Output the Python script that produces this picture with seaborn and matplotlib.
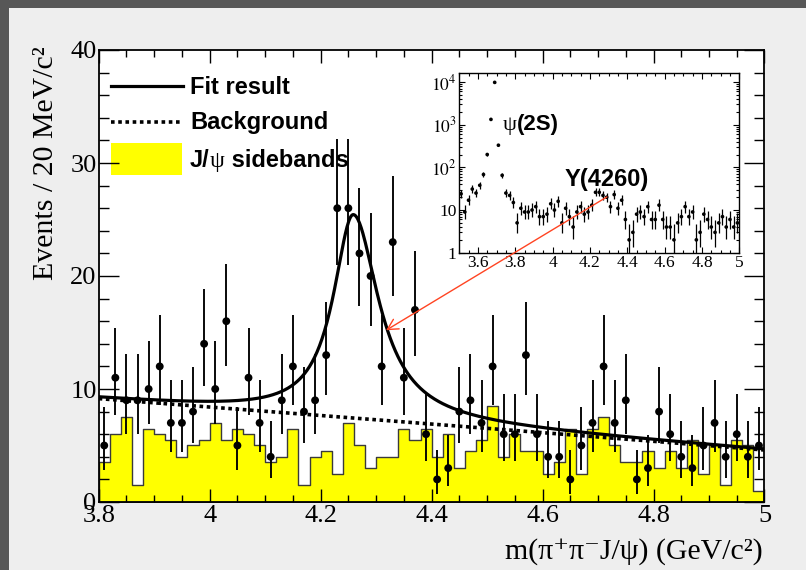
import numpy as np
import pandas as pd
import matplotlib
matplotlib.use("Agg")
import matplotlib.pyplot as plt
import seaborn as sns
from matplotlib.patches import Rectangle
from matplotlib.lines import Line2D
from matplotlib.ticker import MultipleLocator, FuncFormatter, LogLocator, NullFormatter

# ---------------------------------------------------------------- data
# 20 MeV/c^2 bins of m(pi+ pi- J/psi), 3.80 - 5.00 GeV/c^2
mass_low, mass_high, bin_width = 3.80, 5.00, 0.02

events = [5, 11, 9, 9, 10, 12, 7, 7, 8, 14,
          10, 16, 5, 11, 7, 4, 9, 12, 8, 9,
          13, 26, 26, 22, 20, 12, 23, 11, 17, 6,
          2, 3, 8, 9, 7, 12, 6, 6, 13, 6,
          4, 4, 2, 5, 7, 12, 7, 9, 2, 3,
          8, 6, 4, 3, 5, 7, 4, 6, 4, 5]

sidebands = [3.5, 6, 7.5, 1.5, 6.5, 6, 5.5, 4, 5, 5.5,
             7, 5.5, 6.5, 6, 5, 3.5, 4, 6.5, 1.5, 4,
             4.5, 2.5, 7, 5, 3, 4, 4, 6.5, 5.5, 6.5,
             4, 6, 3, 4.5, 5.5, 8.5, 4, 6, 4.5, 4.5,
             2.5, 3.5, 6.5, 2.5, 6.5, 7.5, 5, 3.5, 3.5, 4.5,
             3, 4.5, 3, 5.5, 2.5, 5, 1.5, 5.5, 5, 1]

# wide-range spectrum: bins below 3.80 (psi(2S) region), same binning
inset_low = 3.50
psi2s_region_events = [24, 9, 17, 31, 25, 38, 68, 200, 1330, 9800,
                       330, 65, 25, 22, 15]

# fit result: BW signal on a smooth background
bkg_mass = [3.8, 4.4, 5.0]
bkg_level = [9.15, 6.9, 4.6]
peak_mass = 4.259
peak_height = 18.0
width_below = 0.088
width_above = 0.110

x_ticks_main = [3.8, 4.0, 4.2, 4.4, 4.6, 4.8, 5.0]
y_ticks_main = [0, 10, 20, 30, 40]
x_ticks_inset = [3.6, 3.8, 4.0, 4.2, 4.4, 4.6, 4.8, 5.0]

# ---------------------------------------------------------------- helpers
def poisson_errors(n):
    """68% central Poisson interval (Wilson-Hilferty form)."""
    n = np.asarray(n, float)
    lo = n * (1 - 1 / (9 * n) - 1 / (3 * np.sqrt(n))) ** 3
    hi = (n + 1) * (1 - 1 / (9 * (n + 1)) + 1 / (3 * np.sqrt(n + 1))) ** 3
    return n - lo, hi - n


def background(m):
    c = np.polyfit(bkg_mass, bkg_level, 2)
    return np.polyval(c, m)


def signal(m):
    w = np.where(m < peak_mass, width_below, width_above)
    return peak_height / (1 + (2 * (m - peak_mass) / w) ** 2)


edges = [round(mass_low + i * bin_width, 3) for i in range(len(events) + 1)]
centers = np.array(edges[:-1]) + bin_width / 2
hist_df = pd.DataFrame({"mass": centers, "sideband": sidebands})

# ---------------------------------------------------------------- style
plt.rcParams["font.family"] = ["Liberation Serif", "DejaVu Serif"]
plt.rcParams["mathtext.fontset"] = "stix"
SANS_BOLD = dict(family=["Liberation Sans", "DejaVu Sans"], weight="bold")
SERIF = dict(family=["Liberation Serif", "DejaVu Serif"])

W, H = 806, 570
fig = plt.figure(figsize=(W / 100, H / 100), dpi=100)
fig.patch.set_facecolor("#575757")
fig.add_artist(Rectangle((9 / W, 0), 1, 1 - 8 / H, transform=fig.transFigure,
                         facecolor="#eeeeee", edgecolor="none", zorder=-1))

ax = fig.add_axes([98.7 / W, 1 - 502 / H, 665.8 / W, 452 / H])
ax.set_facecolor("white")

# sideband histogram
sns.histplot(data=hist_df, x="mass", weights="sideband", bins=edges,
             element="step", fill=True, color="#ffff00", alpha=1,
             edgecolor="#3a3a3a", linewidth=1.0, ax=ax, zorder=1)

# fit curves
m = np.linspace(mass_low, mass_high, 800)
ax.plot(m, background(m), color="black", lw=2.6, ls=(0, (1.0, 1.0)),
        dash_capstyle="butt", zorder=3)
ax.plot(m, background(m) + signal(m), color="black", lw=2.3, zorder=3)

# data points
lo, hi = poisson_errors(events)
ax.errorbar(centers, events, yerr=[lo, hi], fmt="none", ecolor="black",
            elinewidth=1.35, capsize=0, zorder=4)
sns.scatterplot(x=centers, y=events, color="black", s=32, edgecolor="none",
                legend=False, ax=ax, zorder=5)

ax.set_xlim(mass_low, mass_high)
ax.set_ylim(0, 40)
ax.set_xlabel("")
ax.set_ylabel("")
ax.set_xticks(x_ticks_main)
ax.set_yticks(y_ticks_main)
ax.xaxis.set_minor_locator(MultipleLocator(0.05))
ax.yaxis.set_minor_locator(MultipleLocator(2))
ax.xaxis.set_major_formatter(FuncFormatter(lambda v, p: f"{v:g}"))
ax.tick_params(which="both", direction="in", top=True, right=True, width=1.0)
ax.tick_params(axis="x", which="major", length=9.4, pad=2, labelsize=19)
ax.tick_params(axis="x", which="minor", length=5)
ax.tick_params(axis="y", which="major", length=14.4, pad=1.5, labelsize=19)
ax.tick_params(axis="y", which="minor", length=7.2)
for s in ax.spines.values():
    s.set_linewidth(1.3)

# axis titles
fig.text(763 / W, 1 - 552 / H, "m(π⁺π⁻J/ψ) (GeV/c²)", ha="right", va="center",
         fontsize=21.5, **SERIF)
fig.text(46 / W, 1 - 46 / H, "Events / 20 MeV/c²", rotation=90, ha="center",
         va="top", fontsize=21.5, **SERIF)

# ---------------------------------------------------------------- legend
def ax_frac(px, py):
    return (px - 98.7) / 665.8, (502 - py) / 452


x0, _ = ax_frac(111, 0)
x1, _ = ax_frac(183, 0)
tx, _ = ax_frac(190, 0)
_, y_fit = ax_frac(0, 85.5)
_, y_bkg = ax_frac(0, 121.5)
ax.add_line(Line2D([x0, x1], [y_fit, y_fit], transform=ax.transAxes,
                   color="black", lw=2.3, zorder=1.5))
ax.add_line(Line2D([x0, x1], [y_bkg, y_bkg], transform=ax.transAxes,
                   color="black", lw=2.6, ls=(0, (1.0, 1.0)),
                   dash_capstyle="butt", zorder=1.5))
rx, ry = ax_frac(111, 175)
ax.add_patch(Rectangle((rx, ry), 71 / 665.8, 32 / 452, transform=ax.transAxes,
                       facecolor="#ffff00", edgecolor="none", zorder=1.5))

_, b1 = ax_frac(0, 94)
_, b2 = ax_frac(0, 129.5)
_, b3 = ax_frac(0, 167)
ax.text(tx, b1, "Fit result", transform=ax.transAxes, va="baseline",
        fontsize=17, zorder=1.5, **SANS_BOLD)
ax.text(tx, b2, "Background", transform=ax.transAxes, va="baseline",
        fontsize=17, zorder=1.5, **SANS_BOLD)

renderer = fig.canvas.get_renderer()


def run_of_text(axes, x, y, pieces, zorder):
    """Draw consecutive text pieces with their own fonts on one baseline."""
    for txt, size, props in pieces:
        t = axes.text(x, y, txt, transform=axes.transAxes, va="baseline",
                      fontsize=size, zorder=zorder, **props)
        bb = t.get_window_extent(renderer=renderer)
        x = axes.transAxes.inverted().transform((bb.x1, bb.y0))[0]


run_of_text(ax, tx, b3, [("J/", 17, SANS_BOLD), ("ψ", 17, SERIF),
                         (" sidebands", 17, SANS_BOLD)], 1.5)

# ---------------------------------------------------------------- inset
ix0, iy0 = ax_frac(459.2, 252.7)
ins = ax.inset_axes([ix0, iy0, 280.1 / 665.8, 179.4 / 452], zorder=6)
ins.set_facecolor("white")
all_events = psi2s_region_events + events
inset_centers = inset_low + bin_width / 2 + bin_width * np.arange(len(all_events))
ilo, ihi = poisson_errors(all_events)
ins.errorbar(inset_centers, all_events, yerr=[ilo, ihi], fmt="none",
             ecolor="black", elinewidth=0.9, capsize=0, zorder=3)
sns.scatterplot(x=inset_centers, y=all_events, color="black", s=7,
                edgecolor="none", legend=False, ax=ins, zorder=4)
ins.set_yscale("log")
ins.set_xlim(inset_low, mass_high)
ins.set_ylim(1, 1.6e4)
ins.set_xlabel("")
ins.set_ylabel("")
ins.set_xticks(x_ticks_inset)
ins.xaxis.set_minor_locator(MultipleLocator(0.05))
ins.xaxis.set_major_formatter(FuncFormatter(lambda v, p: f"{v:g}"))
ins.yaxis.set_major_locator(LogLocator(base=10, numticks=10))
ins.yaxis.set_minor_locator(LogLocator(base=10, subs=np.arange(2, 10), numticks=10))
ins.yaxis.set_minor_formatter(NullFormatter())


def log_label(v, p):
    e = int(round(np.log10(v)))
    return {0: "1", 1: "10"}.get(e, rf"$10^{{{e}}}$")


ins.yaxis.set_major_formatter(FuncFormatter(log_label))
ins.tick_params(which="both", direction="in", top=True, right=True, width=0.8,
                labelsize=12.5, pad=2)
ins.tick_params(which="major", length=4.5)
ins.tick_params(which="minor", length=2.5)
for s in ins.spines.values():
    s.set_linewidth(1.0)


def ins_frac(px, py):
    return (px - 459.2) / 280.1, (252.7 - py) / 179.4


px_, py_ = ins_frac(503, 130)
run_of_text(ins, px_, py_, [("ψ", 16, SERIF), ("(2S)", 16, SANS_BOLD)], 5)
yx, yy = ins_frac(565, 185.7)
ins.text(yx, yy, "Y(4260)", transform=ins.transAxes, va="baseline",
         fontsize=17, zorder=5, **SANS_BOLD)

# arrow from the Y(4260) enhancement to the fitted peak
ax.annotate("", xy=(4.318, 15.2), xytext=(4.716, 27.0), xycoords="data",
            textcoords="data", annotation_clip=False, zorder=10,
            arrowprops=dict(arrowstyle="->,head_length=0.75,head_width=0.4",
                            color="#ff4422", lw=1.0, shrinkA=0, shrinkB=0,
                            mutation_scale=10))

fig.savefig("out.png", dpi=100, facecolor=fig.get_facecolor())
